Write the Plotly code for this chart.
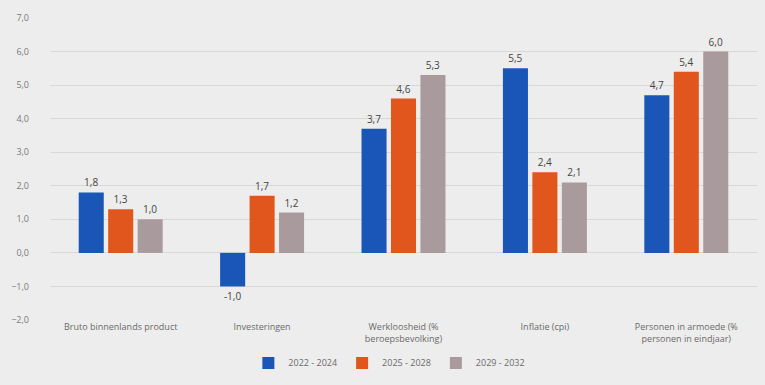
import plotly.graph_objects as go

categories = [
    "Bruto binnenlands product",
    "Investeringen",
    "Werkloosheid (%<br>beroepsbevolking)",
    "Inflatie (cpi)",
    "Personen in armoede (%<br>personen in eindjaar)",
]
series_names = ["2022 - 2024", "2025 - 2028", "2029 - 2032"]
v_2022_2024 = [1.8, -1.0, 3.7, 5.5, 4.7]
v_2025_2028 = [1.3, 1.7, 4.6, 2.4, 5.4]
v_2029_2032 = [1.0, 1.2, 5.3, 2.1, 6.0]
y_ticks = [-2, -1, 0, 1, 2, 3, 4, 5, 6, 7]

colors = ["#1A56B8", "#E0561D", "#A99A9D"]
series = [v_2022_2024, v_2025_2028, v_2029_2032]

fig = go.Figure()
for name, vals, col in zip(series_names, series, colors):
    fig.add_trace(go.Bar(
        x=categories, y=vals, name=name,
        marker=dict(color=col, line=dict(width=0)),
        texttemplate="%{y:.1f}", textposition="outside",
        textfont=dict(size=10, color="#444444", family="Open Sans"),
        cliponaxis=False,
    ))

fig.update_layout(
    width=765, height=385,
    margin=dict(l=50, r=8, t=18, b=65),
    paper_bgcolor="#EDEDED", plot_bgcolor="#EDEDED",
    separators=",.",
    barmode="group", bargap=0.375, bargroupgap=0.15,
    font=dict(family="Open Sans", size=9, color="#6A6A6A"),
    showlegend=True,
    legend=dict(orientation="h", x=0.48, xanchor="center", y=-0.142, yanchor="middle",
                font=dict(size=9, color="#6A6A6A"), itemwidth=30, traceorder="normal"),
)
fig.update_yaxes(range=[-2, 7], tickvals=y_ticks, tickformat=".1f",
                 showgrid=True, gridcolor="#D8D8D8", gridwidth=1,
                 zeroline=True, zerolinecolor="#D8D8D8", zerolinewidth=1,
                 ticklabelstandoff=20, tickfont=dict(size=9, color="#7A7A7A"),
                 showline=False)
fig.update_xaxes(showgrid=False, showline=False, ticks="", tickfont=dict(size=9, color="#6A6A6A"),
                 tickangle=0)

fig.write_html("out.html")
